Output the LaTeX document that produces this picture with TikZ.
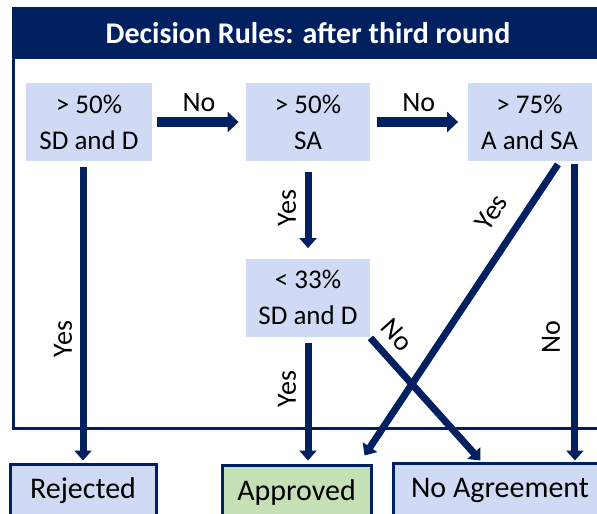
\documentclass[tikz,border=0pt]{standalone}
\usepackage{fontspec}
\setmainfont{Carlito}
\usetikzlibrary{arrows.meta,calc}
\definecolor{navy}{RGB}{0,32,96}
\definecolor{lblue}{RGB}{208,218,244}
\definecolor{lgreen}{RGB}{197,224,180}
\tikzset{rb/.append style={fill=lblue, minimum width=62pt, minimum height=39pt, align=center, inner sep=0pt, font=\fontsize{13.5}{18}\selectfont}}
\tikzset{ob/.append style={draw=navy, line width=1.5pt, fill=lblue, minimum height=27pt, inner sep=0pt, font=\fontsize{15}{18}\selectfont}}
\tikzset{fl/.append style={draw=navy, line width=3.5pt, -{Triangle[width=8.5pt,length=5pt]}}}
\tikzset{hl/.append style={draw=navy, line width=5pt, -{Triangle[width=10pt,length=5.5pt]}}}
\tikzset{lb/.append style={font=\fontsize{14}{16}\selectfont, inner sep=0pt}}

\begin{document}
\begin{tikzpicture}[x=0.5pt,y=-0.5pt]
                \useasboundingbox (0,0) rectangle (597,513);
                \clip (0,0) rectangle (597,513);
                % frame and title
                \fill[navy] (12,7) rectangle (640,59);
                \draw[navy, line width=1.5pt] (13.5,8.5) rectangle (640,428);
                \node[font=\fontsize{15}{18}\selectfont\bfseries, text=white] (ttl) at (308,33) {Decision Rules: after third round};
                % rules
                \node[rb, minimum width=63pt] (b1) at (89,122) {> 50\%\\SD and D};
                \node[rb] (b2) at (308,122) {> 50\%\\SA};
                \node[rb] (b3) at (529.5,122) {> 75\%\\A and SA};
                \node[rb] (b4) at (308,297.5) {< 33\%\\SD and D};
                % outcomes
                \node[ob, minimum width=73pt] (rej) at (83,491) {Rejected};
                \node[ob, fill=lgreen, minimum width=74.5pt] (app) at (296.5,492) {Approved};
                \node[ob, minimum width=107pt] (noag) at (500,490) {No Agreement};
                \coordinate (b3n) at ($(b3.south east)+(-17,0)$);
                \coordinate (b3y) at ($(b3.south east)+(-34,3)$);
                \coordinate (appy) at ($(app.north east)+(-8,-8)$);
                \coordinate (b4n) at ($(b4.south east)+(0,1)$);
                \coordinate (noagn) at ($(noag.north west)+(89,-1)$);
                \path (b1) edge[hl, shorten <=2.5pt, shorten >=3.5pt] node[lb, midway, yshift=9.5pt]{No} (b2);
                \path (b2) edge[hl, shorten <=3.5pt, shorten >=4.5pt] node[lb, midway, yshift=9.5pt]{No} (b3);
                \draw[fl, shorten <=3pt, shorten >=1pt] (b1.south -| rej.north) -- node[lb, pos=0.59, xshift=-10pt, rotate=90]{Yes} (rej.north);
                \draw[fl, shorten <=5.5pt, shorten >=5pt] (b2) -- node[lb, pos=0.48, xshift=-10.5pt, rotate=90]{Yes} (b4);
                \draw[fl, shorten <=3pt, shorten >=1.5pt] (b4.south) -- node[lb, pos=0.41, xshift=-10.5pt, rotate=90]{Yes} (b4.south |- app.north);
                \draw[fl, shorten <=1.5pt, shorten >=0.5pt] (b3n) -- node[lb, pos=0.585, xshift=-12pt, rotate=90]{No} (b3n |- noag.north);
                \draw[fl] (b3y) -- node[lb, pos=0.22, xshift=-12pt, yshift=8pt, rotate=56]{Yes} (appy);
                \draw[fl] (b4n) -- node[lb, pos=0.1, xshift=8pt, yshift=7.5pt, rotate=-48]{No} (noagn);
            \end{tikzpicture}
\end{document}
